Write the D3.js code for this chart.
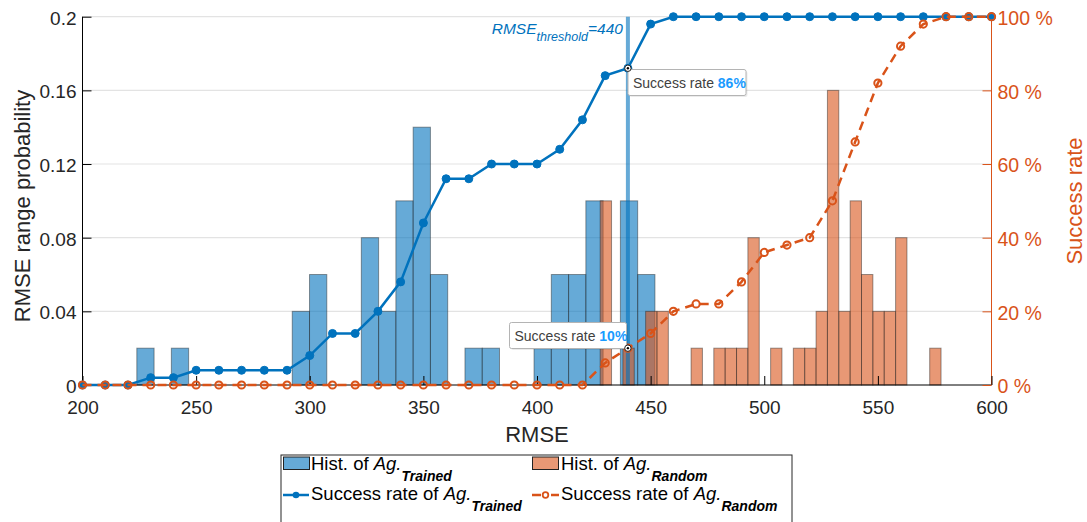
<!DOCTYPE html>
<html>
<head>
<meta charset="utf-8">
<script src="https://cdn.jsdelivr.net/npm/d3@7"></script>
<style>
  html, body { margin: 0; padding: 0; background: #fff; overflow: hidden; }
  svg { display: block; font-family: "Liberation Sans", Arial, sans-serif; }
</style>
</head>
<body>
<svg id="chart" width="1087" height="522"></svg>
<script>
// Histogram of RMSE for the trained agent (bin probabilities)
const trainedBinStart = 223.9;
const trainedBinWidth = 7.6;
const trainedProb = [0.02, 0, 0.02, 0, 0, 0, 0, 0, 0, 0.04,
                     0.06, 0, 0, 0.08, 0.04, 0.10, 0.14, 0.06, 0, 0.02,
                     0.02, 0, 0, 0.02, 0.06, 0.06, 0.10, 0, 0.10, 0.06];

// Histogram of RMSE for the random agent (bin probabilities)
const randomBinStart = 427.8;
const randomBinWidth = 5.0;
const randomProb = [0.10, 0, 0.02, 0, 0.04, 0.04, 0, 0, 0.02, 0,
                    0.02, 0.02, 0.02, 0.08, 0, 0.02, 0, 0.02, 0.02, 0.04,
                    0.16, 0.04, 0.10, 0.06, 0.04, 0.04, 0.08, 0, 0, 0.02];

// Success rate (%) versus RMSE threshold
const rmseGrid = [200, 210, 220, 230, 240, 250, 260, 270, 280, 290,
                  300, 310, 320, 330, 340, 350, 360, 370, 380, 390,
                  400, 410, 420, 430, 440, 450, 460, 470, 480, 490,
                  500, 510, 520, 530, 540, 550, 560, 570, 580, 590, 600];
const trainedSuccess = [0, 0, 0, 2, 2, 4, 4, 4, 4, 4,
                        8, 14, 14, 20, 28, 44, 56, 56, 60, 60,
                        60, 64, 72, 84, 86, 98, 100, 100, 100, 100,
                        100, 100, 100, 100, 100, 100, 100, 100, 100, 100, 100];
const randomSuccess = [0, 0, 0, 0, 0, 0, 0, 0, 0, 0,
                       0, 0, 0, 0, 0, 0, 0, 0, 0, 0,
                       0, 0, 0, 6, 10, 14, 20, 22, 22, 28,
                       36, 38, 40, 50, 66, 82, 92, 98, 100, 100, 100];

const threshold = 440;
const xTicks = [200, 250, 300, 350, 400, 450, 500, 550, 600];
const yTicks = [0, 0.04, 0.08, 0.12, 0.16, 0.2];
const yTickLabels = ["0", "0.04", "0.08", "0.12", "0.16", "0.2"];
const pctTicks = [0, 20, 40, 60, 80, 100];

const BLUE = "#0072BD";
const ORANGE = "#D95319";

const svg = d3.select("#chart");
const plotLeft = 82.5, plotRight = 991.5, plotTop = 16.7, plotBottom = 385;

const x = d3.scaleLinear().domain([200, 600]).range([plotLeft, plotRight]);
const y = d3.scaleLinear().domain([0, 0.2]).range([plotBottom, plotTop]);
const yPct = d3.scaleLinear().domain([0, 100]).range([plotBottom, plotTop]);

// horizontal grid
svg.append("g").selectAll("line").data(yTicks.slice(1)).join("line")
  .attr("x1", plotLeft).attr("x2", plotRight)
  .attr("y1", d => y(d)).attr("y2", d => y(d))
  .attr("stroke", "#e3e3e3").attr("stroke-width", 1.2);

// histogram bars
function bins(start, width, probs) {
  return probs.map((p, i) => ({ x0: start + i * width, x1: start + (i + 1) * width, p }))
              .filter(b => b.p > 0);
}
function drawHist(data, color) {
  svg.append("g").selectAll("rect").data(data).join("rect")
    .attr("x", d => x(d.x0)).attr("width", d => x(d.x1) - x(d.x0))
    .attr("y", d => y(d.p)).attr("height", d => y(0) - y(d.p))
    .attr("fill", color).attr("fill-opacity", 0.6)
    .attr("stroke", "#222").attr("stroke-opacity", 0.45).attr("stroke-width", 1);
}
drawHist(bins(trainedBinStart, trainedBinWidth, trainedProb), BLUE);
drawHist(bins(randomBinStart, randomBinWidth, randomProb), ORANGE);

// threshold line
svg.append("line")
  .attr("x1", x(threshold)).attr("x2", x(threshold))
  .attr("y1", plotTop).attr("y2", plotBottom)
  .attr("stroke", BLUE).attr("stroke-opacity", 0.6).attr("stroke-width", 4);

// threshold label
const thr = svg.append("text")
  .attr("x", x(threshold) - 5).attr("y", 34)
  .attr("text-anchor", "end")
  .attr("fill", BLUE).attr("font-style", "italic").attr("font-size", 15.5);
thr.append("tspan").text("RMSE");
thr.append("tspan").attr("font-size", 12.5).attr("dy", 7).text("threshold");
thr.append("tspan").attr("dy", -7).text("=" + threshold);

// axes frame
svg.append("line").attr("x1", plotLeft).attr("x2", plotLeft).attr("y1", plotTop).attr("y2", plotBottom)
  .attr("stroke", "#000").attr("stroke-width", 1);
svg.append("line").attr("x1", plotLeft).attr("x2", plotRight).attr("y1", plotBottom).attr("y2", plotBottom)
  .attr("stroke", "#000").attr("stroke-width", 1);
svg.append("line").attr("x1", plotRight).attr("x2", plotRight).attr("y1", plotTop).attr("y2", plotBottom)
  .attr("stroke", ORANGE).attr("stroke-width", 1);

// x axis
const xAxis = svg.append("g").attr("transform", `translate(0,${plotBottom})`)
  .call(d3.axisBottom(x).tickValues(xTicks).tickSizeInner(-9).tickSizeOuter(0).tickPadding(15.5));
xAxis.select(".domain").remove();
xAxis.selectAll("line").attr("stroke", "#000");
xAxis.selectAll("text").attr("font-size", 19).attr("fill", "#262626")
  .attr("font-family", "Liberation Sans, Arial, sans-serif");

// left axis
const yAxis = svg.append("g").attr("transform", `translate(${plotLeft},0)`)
  .call(d3.axisLeft(y).tickValues(yTicks).tickFormat((d, i) => yTickLabels[i])
        .tickSizeInner(-9).tickSizeOuter(0).tickPadding(6));
yAxis.select(".domain").remove();
yAxis.selectAll("line").attr("stroke", "#000");
yAxis.selectAll("text").attr("font-size", 19).attr("fill", "#262626")
  .attr("font-family", "Liberation Sans, Arial, sans-serif").attr("dy", "0.4em");

// right axis
const rAxis = svg.append("g").attr("transform", `translate(${plotRight},0)`)
  .call(d3.axisRight(yPct).tickValues(pctTicks).tickFormat(d => d + " %")
        .tickSizeInner(-9).tickSizeOuter(0).tickPadding(6));
rAxis.select(".domain").remove();
rAxis.selectAll("line").attr("stroke", ORANGE);
rAxis.selectAll("text").attr("font-size", 19.5).attr("fill", ORANGE)
  .attr("font-family", "Liberation Sans, Arial, sans-serif").attr("dy", "0.4em");

// axis titles
svg.append("text").attr("x", x(400)).attr("y", 442).attr("text-anchor", "middle")
  .attr("font-size", 22).attr("fill", "#262626").text("RMSE");
svg.append("text").attr("transform", `translate(30,206) rotate(-90)`)
  .attr("text-anchor", "middle").attr("font-size", 22).attr("fill", "#262626")
  .text("RMSE range probability");
svg.append("text").attr("transform", `translate(1082,201) rotate(-90)`)
  .attr("text-anchor", "middle").attr("font-size", 22).attr("fill", ORANGE)
  .text("Success rate");

// success-rate curves
const pts = (vals) => rmseGrid.map((r, i) => [r, vals[i]]);
const line = d3.line().x(d => x(d[0])).y(d => yPct(d[1]));

svg.append("path").datum(pts(trainedSuccess)).attr("d", line)
  .attr("fill", "none").attr("stroke", BLUE).attr("stroke-width", 2.5);
svg.append("g").selectAll("circle").data(pts(trainedSuccess)).join("circle")
  .attr("cx", d => x(d[0])).attr("cy", d => yPct(d[1])).attr("r", 4)
  .attr("fill", BLUE).attr("stroke", BLUE).attr("stroke-width", 1);

svg.append("path").datum(pts(randomSuccess)).attr("d", line)
  .attr("fill", "none").attr("stroke", ORANGE).attr("stroke-width", 2.5)
  .attr("stroke-dasharray", "9,6");
svg.append("g").selectAll("circle").data(pts(randomSuccess)).join("circle")
  .attr("cx", d => x(d[0])).attr("cy", d => yPct(d[1])).attr("r", 3.6)
  .attr("fill", "none").attr("stroke", ORANGE).attr("stroke-width", 2);

// data tips at the threshold
function dataTip(value, bx, by, w) {
  const px = x(threshold), py = yPct(value);
  const g = svg.append("g");
  g.append("rect").attr("x", bx + 1.5).attr("y", by + 1.5).attr("width", w).attr("height", 26)
    .attr("rx", 2).attr("fill", "#000").attr("fill-opacity", 0.08);
  g.append("rect").attr("x", bx).attr("y", by).attr("width", w).attr("height", 26)
    .attr("rx", 2).attr("fill", "#fff").attr("stroke", "#b4b4b4").attr("stroke-width", 1);
  const t = g.append("text").attr("x", bx + 5).attr("y", by + 18).attr("font-size", 14)
    .attr("fill", "#404040");
  t.append("tspan").text("Success rate ");
  t.append("tspan").attr("font-weight", "bold").attr("fill", "#1a9bff").text(value + "%");
  g.append("circle").attr("cx", px).attr("cy", py).attr("r", 3.2)
    .attr("fill", "#fff").attr("stroke", "#222").attr("stroke-width", 1);
  g.append("circle").attr("cx", px).attr("cy", py).attr("r", 1.2).attr("fill", "#000");
}
dataTip(trainedSuccess[rmseGrid.indexOf(threshold)], 628, 69.5, 118);
dataTip(randomSuccess[rmseGrid.indexOf(threshold)], 509.5, 322.5, 117);

// legend
const lg = svg.append("g");
lg.append("rect").attr("x", 281).attr("y", 455).attr("width", 511).attr("height", 90)
  .attr("fill", "#fff").attr("stroke", "#262626").attr("stroke-width", 1);

function legendLabel(tx, ty, prefix, sub) {
  const t = lg.append("text").attr("x", tx).attr("y", ty).attr("font-size", 18.5).attr("fill", "#000");
  t.append("tspan").text(prefix);
  t.append("tspan").attr("font-style", "italic").text("Ag.");
  t.append("tspan").attr("font-style", "italic").attr("font-weight", "bold")
    .attr("font-size", 14).attr("dy", 11).text(sub);
}
// row 1: histogram swatches
lg.append("rect").attr("x", 283.5).attr("y", 457).attr("width", 26).attr("height", 12.5)
  .attr("fill", BLUE).attr("fill-opacity", 0.6).attr("stroke", "#222");
legendLabel(311, 470, "Hist. of ", "Trained");
lg.append("rect").attr("x", 532.5).attr("y", 457).attr("width", 26).attr("height", 12.5)
  .attr("fill", ORANGE).attr("fill-opacity", 0.6).attr("stroke", "#222");
legendLabel(561, 470, "Hist. of ", "Random");
// row 2: line samples
lg.append("line").attr("x1", 283).attr("x2", 309).attr("y1", 495).attr("y2", 495)
  .attr("stroke", BLUE).attr("stroke-width", 2.5);
lg.append("circle").attr("cx", 296).attr("cy", 495).attr("r", 3.3).attr("fill", BLUE);
legendLabel(311, 500, "Success rate of ", "Trained");
lg.append("line").attr("x1", 532).attr("x2", 541).attr("y1", 495).attr("y2", 495)
  .attr("stroke", ORANGE).attr("stroke-width", 2.5);
lg.append("line").attr("x1", 551).attr("x2", 559).attr("y1", 495).attr("y2", 495)
  .attr("stroke", ORANGE).attr("stroke-width", 2.5);
lg.append("circle").attr("cx", 545.5).attr("cy", 495).attr("r", 2.8)
  .attr("fill", "#fff").attr("stroke", ORANGE).attr("stroke-width", 1.8);
legendLabel(561, 500, "Success rate of ", "Random");
</script>
</body>
</html>
